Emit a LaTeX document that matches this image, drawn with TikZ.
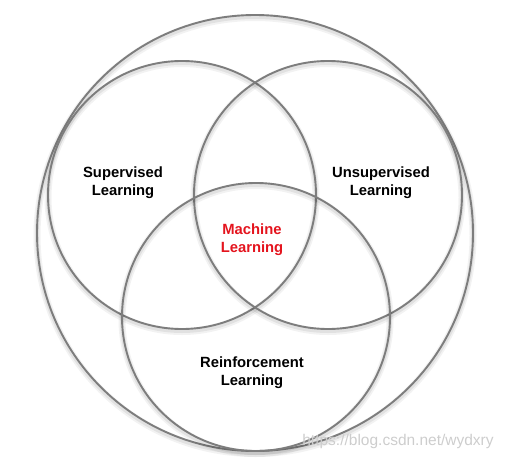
\documentclass[tikz,border=0pt]{standalone}
\usepackage{fontspec}
\setsansfont{Liberation Sans}
\usepackage{xcolor}
\usepackage{tikz}
\usetikzlibrary{positioning}
\definecolor{ringgray}{RGB}{125,125,125}
\definecolor{mlred}{RGB}{228,20,30}
\definecolor{markgray}{RGB}{205,205,205}

\begin{document}
\begin{tikzpicture}[
        x=1pt, y=-1pt,
        ring/.style={draw=ringgray, circle, line width=1.9pt, inner sep=0pt,
            preaction={draw=black, opacity=0.05, line width=7pt, transform canvas={yshift=-2.5pt}},
            preaction={draw=black, opacity=0.07, line width=4pt, transform canvas={yshift=-2pt}}},
        lbl/.style={align=center, font=\sffamily\bfseries\fontsize{14.8}{18}\selectfont},
        wmark/.style={text=markgray, font=\sffamily\fontsize{15.5}{18}\selectfont}
    ]
    \useasboundingbox (0,0) rectangle (505,460);

    % circles
    \node[ring, minimum size=436pt] (ml) at (255,233) {};
    \node[ring, minimum size=268pt] (sup) at (182,195) {};
    \node[ring, minimum size=268pt] (unsup) at (328,195) {};
    \node[ring, minimum size=268pt] (reinf) at (256,317) {};

    % labels
    \node[lbl] (suptxt) at (123,183) {Supervised\\Learning};
    \node[lbl] (unsuptxt) at (381,183) {Unsupervised\\Learning};
    \node[lbl, text=mlred] (mltxt) at (252,240) {Machine\\Learning};
    \node[lbl] (reinftxt) at (252,373) {Reinforcement\\Learning};

    \node[wmark] (url) at (398,441) {https://blog.csdn.net/wydxry};

\end{tikzpicture}
\end{document}
